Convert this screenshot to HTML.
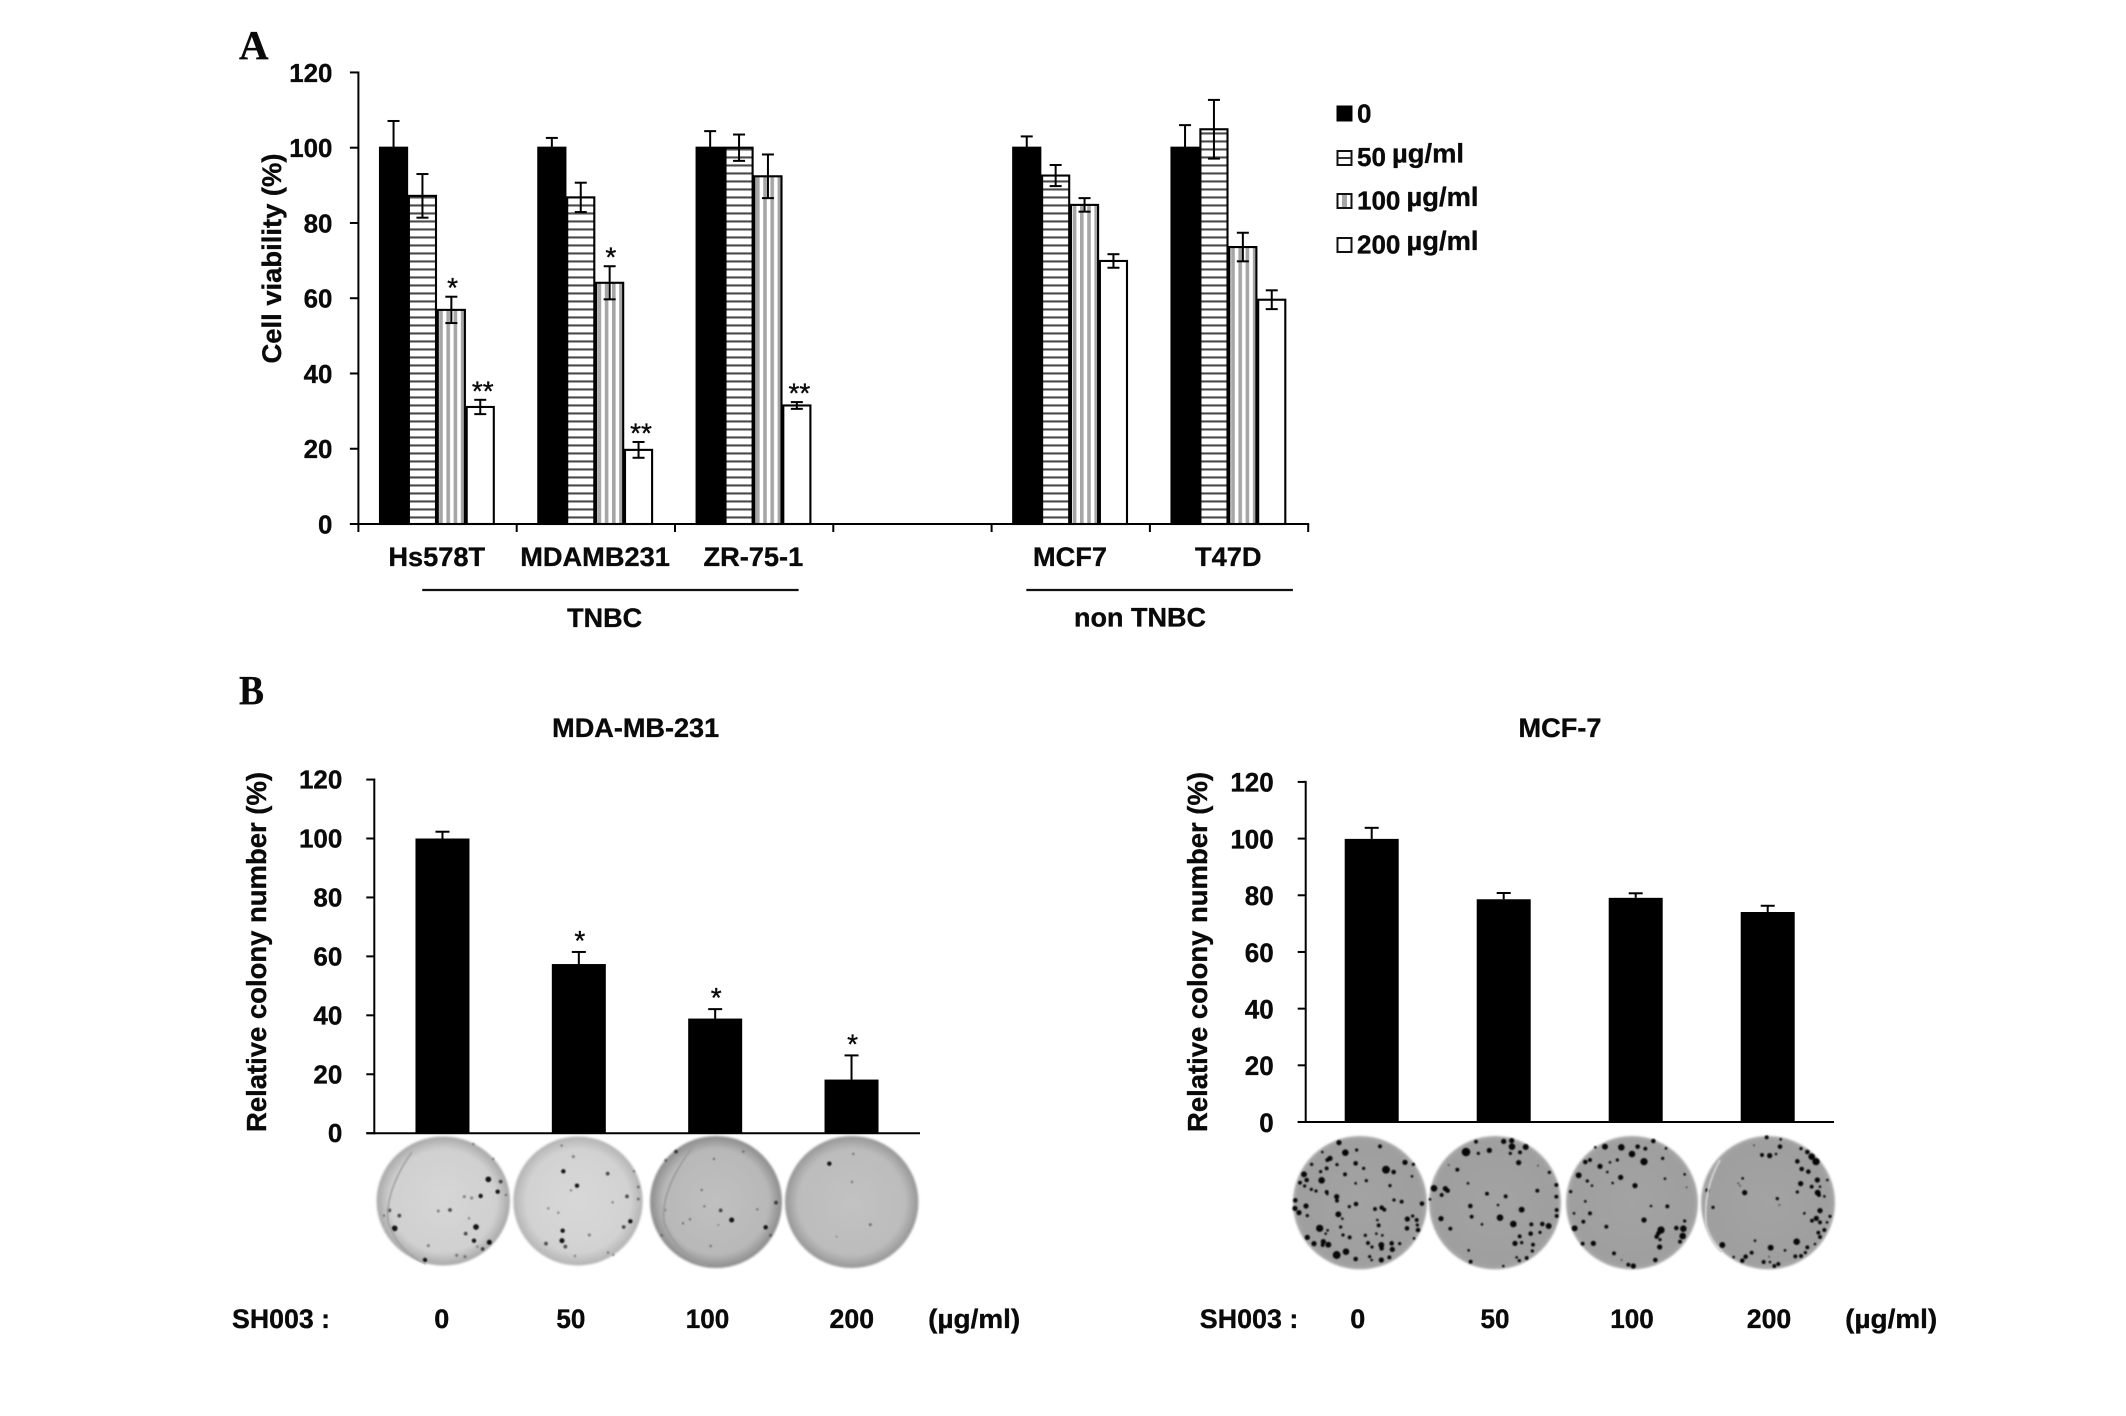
<!DOCTYPE html>
<html lang="en">
<head>
<meta charset="utf-8">
<title>SH003 cell viability and colony formation</title>
<style>
html,body{margin:0;padding:0;background:#fff;width:2126px;height:1416px;overflow:hidden}
svg{display:block}
text{font-family:"Liberation Sans",Arial,sans-serif;font-weight:700;fill:#0a0a0a;stroke:#0a0a0a;stroke-width:.35px}
.serif{font-family:"Liberation Serif","Times New Roman",serif}
.star{font-weight:400;font-size:28px}
</style>
</head>
<body>
<svg id="fig" xmlns="http://www.w3.org/2000/svg" width="2126" height="1416" viewBox="0 0 2126 1416">
  <defs>
    <pattern id="hstripe" patternUnits="userSpaceOnUse" width="8" height="8">
      <rect width="8" height="8" fill="#fff"/><rect y="4.4" width="8" height="2.1" fill="#4a4a4a"/>
    </pattern>
    <pattern id="vstripe" patternUnits="userSpaceOnUse" width="7.2" height="8">
      <rect width="7.2" height="8" fill="#fff"/><rect x="0" width="3.6" height="8" fill="#a6a6a6"/>
    </pattern>
    <filter id="soft" x="-5%" y="-5%" width="110%" height="110%"><feGaussianBlur stdDeviation="1.1"/></filter>
    <filter id="softdot" x="-5%" y="-5%" width="110%" height="110%"><feGaussianBlur stdDeviation="0.8"/></filter>
    <radialGradient id="plateLight1"><stop offset="0" stop-color="#d6d6d6"/><stop offset=".8" stop-color="#d0d0d0"/><stop offset="1" stop-color="#a8a8a8"/></radialGradient>
    <radialGradient id="plateLight2"><stop offset="0" stop-color="#d8d8d8"/><stop offset=".8" stop-color="#d2d2d2"/><stop offset="1" stop-color="#b4b4b4"/></radialGradient>
    <radialGradient id="plateMid1"><stop offset="0" stop-color="#c0c0c0"/><stop offset=".8" stop-color="#b8b8b8"/><stop offset="1" stop-color="#8c8c8c"/></radialGradient>
    <radialGradient id="plateMid2"><stop offset="0" stop-color="#c2c2c2"/><stop offset=".8" stop-color="#bcbcbc"/><stop offset="1" stop-color="#979797"/></radialGradient>
    <radialGradient id="plateDark"><stop offset="0" stop-color="#a3a3a3"/><stop offset=".92" stop-color="#9f9f9f"/><stop offset="1" stop-color="#a8a8a8"/></radialGradient>
  </defs>

  <text class="serif" x="239" y="59" font-size="41">A</text>
  <text class="serif" x="239" y="704" font-size="41" textLength="25" lengthAdjust="spacingAndGlyphs">B</text>

  <g id="chartA">
    <text transform="translate(281,363.5) rotate(-90)" font-size="27" textLength="210" lengthAdjust="spacingAndGlyphs">Cell viability (%)</text>
    <line x1="422.2" x2="798.6" y1="590" y2="590" stroke="#111" stroke-width="2.2"/>
    <line x1="1026.3" x2="1292.9" y1="590" y2="590" stroke="#111" stroke-width="2.2"/>
    <text x="604.6" y="627" text-anchor="middle" font-size="27">TNBC</text>
    <text x="1140" y="626.5" text-anchor="middle" font-size="27">non TNBC</text>
    <g>
      <rect x="1337.5" y="106.5" width="14" height="14" fill="#000" stroke="#000" stroke-width="2"/>
      <text x="1357" y="122.5" font-size="26">0</text>
      <rect x="1337.5" y="151" width="14" height="14" fill="#fff" stroke="#111" stroke-width="2"/>
      <line x1="1338" x2="1351" y1="158" y2="158" stroke="#333" stroke-width="2"/>
      <text x="1357" y="166" font-size="26">50</text>
      <text x="1392" y="162.7" font-size="27" textLength="72" lengthAdjust="spacingAndGlyphs">µg/ml</text>
      <rect x="1337.5" y="194" width="14" height="14" fill="#fff" stroke="#111" stroke-width="2"/>
      <rect x="1342" y="195" width="5" height="12" fill="#a6a6a6"/>
      <text x="1357" y="209.5" font-size="26">100</text>
      <text x="1406.5" y="206" font-size="27" textLength="72" lengthAdjust="spacingAndGlyphs">µg/ml</text>
      <rect x="1337.5" y="238" width="14" height="14" fill="#fff" stroke="#111" stroke-width="2"/>
      <text x="1357" y="253.5" font-size="26">200</text>
      <text x="1406.5" y="250" font-size="27" textLength="72" lengthAdjust="spacingAndGlyphs">µg/ml</text>
    </g>
  </g>

  <g id="chartB1">
    <text x="635.7" y="737" text-anchor="middle" font-size="27" textLength="167" lengthAdjust="spacingAndGlyphs">MDA-MB-231</text>
    <text transform="translate(266,1132) rotate(-90)" font-size="27.4" textLength="360" lengthAdjust="spacingAndGlyphs">Relative colony number (%)</text>
  </g>
  <g id="chartB2">
    <text x="1560" y="737" text-anchor="middle" font-size="27" textLength="83" lengthAdjust="spacingAndGlyphs">MCF-7</text>
    <text transform="translate(1207,1132) rotate(-90)" font-size="27.4" textLength="360" lengthAdjust="spacingAndGlyphs">Relative colony number (%)</text>
  </g>

  <g id="plates"></g>

  <g font-size="27">
    <text x="232" y="1328" textLength="98" lengthAdjust="spacingAndGlyphs">SH003 :</text>
    <text x="441.8" y="1328" text-anchor="middle" textLength="15" lengthAdjust="spacingAndGlyphs">0</text>
    <text x="570.9" y="1328" text-anchor="middle" textLength="29" lengthAdjust="spacingAndGlyphs">50</text>
    <text x="707.5" y="1328" text-anchor="middle" textLength="43.5" lengthAdjust="spacingAndGlyphs">100</text>
    <text x="851.8" y="1328" text-anchor="middle" textLength="44.5" lengthAdjust="spacingAndGlyphs">200</text>
    <text x="928.2" y="1328" textLength="92" lengthAdjust="spacingAndGlyphs">(µg/ml)</text>
  </g>
  <g font-size="27">
    <text x="1199.8" y="1328" textLength="98.5" lengthAdjust="spacingAndGlyphs">SH003 :</text>
    <text x="1357.7" y="1328" text-anchor="middle" textLength="15" lengthAdjust="spacingAndGlyphs">0</text>
    <text x="1495" y="1328" text-anchor="middle" textLength="29" lengthAdjust="spacingAndGlyphs">50</text>
    <text x="1632" y="1328" text-anchor="middle" textLength="43.5" lengthAdjust="spacingAndGlyphs">100</text>
    <text x="1769" y="1328" text-anchor="middle" textLength="44.5" lengthAdjust="spacingAndGlyphs">200</text>
    <text x="1845.2" y="1328" textLength="92" lengthAdjust="spacingAndGlyphs">(µg/ml)</text>
  </g>
</svg>

<script>
/* ---------- Panel A data ---------- */
const aCategories = ['Hs578T', 'MDAMB231', 'ZR-75-1', '', 'MCF7', 'T47D'];
const aTicks = [0, 20, 40, 60, 80, 100, 120];
const aDose0 = [100, 100, 100, null, 100, 100];
const aDose50 = [87.2, 86.8, 100, null, 92.6, 104.9];
const aDose100 = [56.9, 64.1, 92.4, null, 84.8, 73.6];
const aDose200 = [31.1, 19.7, 31.5, null, 69.9, 59.6];
const aErr0 = [7.1, 2.6, 4.4, null, 3, 6];
const aErr50 = [5.8, 3.9, 3.5, null, 2.8, 7.8];
const aErr100 = [3.5, 4.4, 5.8, null, 1.8, 3.8];
const aErr200 = [1.9, 2.1, 0.9, null, 1.8, 2.5];
const aStars100 = ['*', '*', '', '', '', ''];
const aStars200 = ['**', '**', '**', '', '', ''];

/* ---------- Panel B data ---------- */
const bTicks = [0, 20, 40, 60, 80, 100, 120];
const mdaValues = [100, 57.4, 38.9, 18.2];
const mdaErrors = [2.3, 4.1, 3.2, 8.2];
const mdaStars = ['', '*', '*', '*'];
const mcfValues = [99.9, 78.6, 79.1, 74.1];
const mcfErrors = [3.9, 2.2, 1.6, 2.2];

/* ---------- Plate photograph spots: [x, y, r] in 3x crop coordinates ---------- */
const spotsL1 = [[355,148,8],[383,185,6],[392,155,5],[408,195,3],[283,200,4],[305,204,4],[332,198,6],[240,240,5],[205,243,4],[88,257,5],[58,241,5],[42,257,3],[74,295,8],[318,291,8],[287,311,5],[312,332,6],[358,337,7],[338,357,5],[322,350,3],[175,347,4],[260,376,4],[285,380,4],[165,390,6],[310,42,3],[370,87,3],[297,265,3]];
const spotsL2 = [[575,47,3],[610,80,4],[580,124,6],[713,131,5],[621,167,6],[603,181,3],[771,199,5],[805,171,4],[805,207,4],[792,124,3],[728,217,3],[781,274,6],[761,291,5],[578,302,6],[576,332,7],[586,350,5],[528,341,5],[615,378,3],[730,375,3],[714,368,3],[658,315,4],[565,248,3],[535,235,3]];
const spotsL3 = [[78,65,5],[47,91,4],[192,87,3],[245,270,7],[347,292,6],[362,316,4],[378,218,5],[212,241,5],[163,229,3],[322,238,3],[99,280,3],[120,268,3],[182,348,3],[35,316,3],[280,65,3],[155,180,3],[205,285,2],[45,240,3]];
const spotsL4 = [[538,101,6],[661,284,4],[610,72,3],[606,156,3],[560,320,2]];
const spotsR1 = [[147,38,7],[270,49,5],[166,68,9],[200,60,4],[97,66,3],[120,85,7],[112,90,5],[65,103,4],[141,104,4],[197,100,6],[110,115,5],[221,115,4],[288,119,11],[311,126,6],[345,97,7],[370,103,4],[92,125,4],[42,133,8],[165,133,5],[50,150,6],[95,151,9],[30,158,5],[44,168,4],[229,152,4],[197,160,3],[300,167,4],[366,139,3],[64,178,4],[78,183,4],[110,186,5],[112,192,3],[140,200,7],[141,212,5],[16,211,6],[48,228,7],[15,235,7],[27,248,7],[52,257,4],[198,222,6],[178,230,4],[255,237,5],[275,233,6],[283,239,5],[335,215,5],[312,210,4],[396,221,6],[145,253,8],[157,266,3],[266,286,5],[262,270,3],[352,267,7],[368,258,4],[380,270,5],[351,295,6],[384,300,6],[89,295,10],[152,291,4],[113,301,3],[52,322,7],[107,311,3],[159,315,4],[179,322,5],[226,316,4],[259,311,3],[277,316,3],[72,341,7],[100,335,7],[98,345,5],[115,344,8],[234,339,5],[246,351,4],[274,345,8],[275,355,6],[305,340,6],[307,358,7],[329,341,4],[140,375,11],[168,365,9],[197,387,6],[239,380,4],[245,390,3],[274,390,7],[298,382,5],[372,325,3],[382,285,4]];
const spotsR2 = [[558,35,5],[528,66,12],[565,70,4],[598,61,7],[641,34,7],[665,32,7],[666,50,9],[690,67,5],[707,51,8],[661,70,4],[686,98,7],[502,119,5],[476,105,2],[744,107,2],[778,127,4],[534,160,3],[432,175,9],[466,176,7],[473,182,6],[455,195,5],[591,191,5],[647,199,5],[742,182,5],[799,165,5],[799,200,5],[420,208,3],[541,228,6],[624,225,3],[695,239,8],[800,240,5],[800,258,5],[545,260,5],[453,266,7],[630,263,9],[576,283,3],[670,282,9],[481,296,5],[724,283,5],[757,282,6],[776,288,8],[722,311,6],[750,307,4],[689,319,5],[675,340,7],[695,338,4],[729,344,5],[727,363,4],[536,361,3],[542,395,5],[680,382,3],[688,392,4],[710,384,5],[640,408,3]];
const spotsR3 = [[105,50,8],[154,52,9],[203,50,6],[226,56,5],[250,33,6],[288,55,3],[76,52,3],[186,72,9],[46,96,6],[60,90,5],[90,109,7],[120,97,3],[142,90,4],[222,95,10],[278,85,4],[112,126,3],[344,133,3],[26,136,8],[152,142,7],[52,153,4],[128,159,3],[195,167,7],[66,167,3],[285,146,3],[350,172,2],[2,185,4],[46,214,3],[243,228,3],[292,229,5],[60,250,5],[12,250,3],[40,275,5],[222,270,7],[344,273,4],[14,295,8],[109,290,5],[273,300,10],[265,310,6],[260,320,6],[319,294,6],[340,296,9],[338,318,9],[270,329,4],[269,351,7],[330,335,5],[38,341,5],[70,340,7],[132,370,5],[256,390,6],[190,408,7],[175,404,5],[155,390,2]];
const spotsR4 = [[590,22,5],[630,50,6],[632,28,3],[552,46,2],[576,75,5],[599,77,7],[618,72,3],[693,56,4],[712,66,6],[682,94,6],[725,80,9],[738,95,10],[695,117,6],[715,125,6],[518,145,3],[505,160,2],[510,167,2],[524,188,7],[412,181,5],[692,161,7],[725,170,5],[742,150,7],[750,170,3],[772,150,3],[682,186,4],[743,188,8],[747,195,5],[763,199,3],[622,206,4],[628,225,2],[429,232,4],[750,242,7],[703,250,3],[739,265,7],[726,272,5],[750,277,5],[780,259,4],[771,277,3],[763,300,5],[745,308,5],[750,321,5],[735,342,3],[680,335,9],[712,352,5],[457,345,8],[602,353,8],[645,361,3],[545,368,5],[527,380,6],[491,381,3],[517,392,6],[581,396,5],[597,380,2],[600,396,3],[676,379,5],[693,378,5],[706,368,4],[613,408,5],[625,402,5],[555,332,3]];

const NS = 'http://www.w3.org/2000/svg';
function mk(tag, attrs, parent) {
  const el = document.createElementNS(NS, tag);
  for (const k in attrs) el.setAttribute(k, attrs[k]);
  parent.appendChild(el);
  return el;
}

function drawErrorBar(parent, name, cx, yTop, yBottom, capHalf, width) {
  const stem = mk('line', {x1: cx, x2: cx, y1: yTop, y2: yBottom, stroke: '#000', 'stroke-width': width}, parent);
  
  
  const capTop = mk('line', {x1: cx - capHalf, x2: cx + capHalf, y1: yTop, y2: yTop, stroke: '#000', 'stroke-width': width}, parent);
  
  
  const capBottom = mk('line', {x1: cx - capHalf, x2: cx + capHalf, y1: yBottom, y2: yBottom, stroke: '#000', 'stroke-width': width}, parent);
  
  
}

function drawYAxis(parent, prefix, axisX, yOf, ticks, tickLen, labelGap, baseOffset, fontSize, textW, strokeW) {
  const axis = mk('line', {x1: axisX, x2: axisX, y1: yOf(ticks[ticks.length - 1]) - 1, y2: yOf(ticks[0]) + 1, stroke: '#000', 'stroke-width': strokeW}, parent);
  
  
  ticks.forEach(function (t) {
    const tick = mk('line', {x1: axisX - tickLen, x2: axisX, y1: yOf(t), y2: yOf(t), stroke: '#000', 'stroke-width': strokeW}, parent);
    
    
    const lab = mk('text', {x: axisX - labelGap, y: yOf(t) + baseOffset, 'text-anchor': 'end', 'font-size': fontSize, textLength: String(t).length * textW, lengthAdjust: 'spacingAndGlyphs'}, parent);
    lab.textContent = t;
    
    
  });
}

/* ---------- Panel A ---------- */
(function () {
  const g = document.getElementById('chartA');
  const axisX = 358.4, y0 = 524, unit = 3.763, step = 158.3, groupOffset = 20.7, barW = 28.9;
  const yA = function (v) { return y0 - v * unit; };
  const xA = function (i) { return axisX + i * step; };
  const seriesVals = [aDose0, aDose50, aDose100, aDose200];
  const seriesErrs = [aErr0, aErr50, aErr100, aErr200];
  const seriesFill = ['#000', 'url(#hstripe)', 'url(#vstripe)', '#fff'];
  const seriesName = ['0', '50', '100', '200'];
  const seriesStars = [null, null, aStars100, aStars200];

  seriesVals.forEach(function (vals, s) {
    vals.forEach(function (v, i) {
      if (v === null) return;
      const x = xA(i) + groupOffset + s * barW;
      const bar = mk('rect', {x: x + 0.9, y: yA(v), width: barW - 1.8, height: y0 - yA(v), fill: seriesFill[s], stroke: '#000', 'stroke-width': 2.1}, g);
      
      
    });
  });
  seriesVals.forEach(function (vals, s) {
    vals.forEach(function (v, i) {
      if (v === null) return;
      const cx = xA(i) + groupOffset + (s + 0.5) * barW;
      const e = seriesErrs[s][i];
      drawErrorBar(g, 'error-' + aCategories[i].toLowerCase() + '-' + seriesName[s], cx, yA(v + e), yA(v - e), 6, 2);
      const stars = seriesStars[s];
      if (stars && stars[i]) {
        const st = mk('text', {x: cx + (stars[i].length > 1 ? 2.5 : 1.2), y: yA(v + e) + 0.5, 'text-anchor': 'middle', class: 'star'}, g);
        st.textContent = stars[i];
        
        
      }
    });
  });

  drawYAxis(g, 'viability', axisX, yA, aTicks, 8.5, 26, 9.5, 26, 14.4, 2);
  const xAxis = mk('line', {x1: axisX - 8.5, x2: xA(aCategories.length) + 1, y1: y0, y2: y0, stroke: '#000', 'stroke-width': 2}, g);
  
  
  for (let i = 0; i <= aCategories.length; i++) {
    const tick = mk('line', {x1: xA(i), x2: xA(i), y1: y0, y2: y0 + 8, stroke: '#000', 'stroke-width': 2}, g);
    
    
  }
  aCategories.forEach(function (c, i) {
    if (!c) return;
    const lab = mk('text', {x: xA(i + 0.5) - 0.8, y: 566, 'text-anchor': 'middle', 'font-size': 27.2}, g);
    lab.textContent = c;
    
    
  });
})();

/* ---------- Panel B bar charts ---------- */
function drawColonyChart(gid, prefix, axisX, y0, unit, step, barW, xEnd, values, errors, stars, baseOff, labelFont) {
  const g = document.getElementById(gid);
  const yB = function (v) { return y0 - v * unit; };
  const xB = function (i) { return axisX + (i + 0.5) * step; };
  values.forEach(function (v, i) {
    const bar = mk('rect', {x: xB(i) - barW / 2, y: yB(v), width: barW, height: y0 - yB(v), fill: '#000'}, g);
    
    
    const top = yB(v + errors[i]);
    const stem = mk('line', {x1: xB(i), x2: xB(i), y1: top, y2: yB(v), stroke: '#000', 'stroke-width': 2}, g);
    
    
    const cap = mk('line', {x1: xB(i) - 7, x2: xB(i) + 7, y1: top, y2: top, stroke: '#000', 'stroke-width': 2}, g);
    
    
    if (stars[i]) {
      const st = mk('text', {x: xB(i) + 1, y: top - 2, 'text-anchor': 'middle', class: 'star'}, g);
      st.textContent = stars[i];
      
      
    }
  });
  drawYAxis(g, prefix, axisX, yB, bTicks, 8, 32, baseOff, labelFont, 14.45, 2);
  const xAxis = mk('line', {x1: axisX - 8, x2: xEnd, y1: y0, y2: y0, stroke: '#000', 'stroke-width': 2}, g);
  
  
}
drawColonyChart('chartB1', 'mda', 374.3, 1133.2, 2.947, 136.35, 54, 920, mdaValues, mdaErrors, mdaStars, 9, 26);
drawColonyChart('chartB2', 'mcf', 1305.7, 1122, 2.834, 132, 54, 1834, mcfValues, mcfErrors, ['', '', '', ''], 9.8, 27);

/* ---------- Plates ---------- */
(function () {
  const g = document.getElementById('plates');
  const plates = [
    {name: 'mda-plate-0',   cx: 443.3,  cy: 1201,   rx: 66.7, ry: 64.5, fill: 'plateLight1', ox: 370,  spots: spotsL1, alpha: 0.85},
    {name: 'mda-plate-50',  cx: 578,    cy: 1201,   rx: 64.7, ry: 64.5, fill: 'plateLight2', ox: 370,  spots: spotsL2, alpha: 0.85},
    {name: 'mda-plate-100', cx: 716,    cy: 1202,   rx: 66,   ry: 66,   fill: 'plateMid1',   ox: 650,  spots: spotsL3, alpha: 0.85},
    {name: 'mda-plate-200', cx: 851.7,  cy: 1202,   rx: 66.7, ry: 66,   fill: 'plateMid2',   ox: 650,  spots: spotsL4, alpha: 0.85},
    {name: 'mcf-plate-0',   cx: 1360,   cy: 1202.7, rx: 67,   ry: 66.7, fill: 'plateDark',   ox: 1290, spots: spotsR1, alpha: 1},
    {name: 'mcf-plate-50',  cx: 1495,   cy: 1202.7, rx: 66,   ry: 66.7, fill: 'plateDark',   ox: 1290, spots: spotsR2, alpha: 1},
    {name: 'mcf-plate-100', cx: 1632,   cy: 1202.7, rx: 66,   ry: 66.7, fill: 'plateDark',   ox: 1570, spots: spotsR3, alpha: 1},
    {name: 'mcf-plate-200', cx: 1768,   cy: 1202.7, rx: 67,   ry: 66.7, fill: 'plateDark',   ox: 1570, spots: spotsR4, alpha: 1}
  ];
  plates.forEach(function (p) {
    const plateGroup = mk('g', {}, g);
    
    
    const disc = mk('ellipse', {cx: p.cx, cy: p.cy, rx: p.rx, ry: p.ry, fill: 'url(#' + p.fill + ')', filter: 'url(#soft)'}, plateGroup);
    
    
    const colonies = mk('g', {filter: 'url(#softdot)'}, plateGroup);
    
    
    p.spots.forEach(function (s) {
      const dot = mk('circle', {
        cx: p.ox + s[0] / 3,
        cy: 1130 + s[1] / 3,
        r: s[2] / 3 + (p.alpha === 1 ? 0.3 : 0.2),
        fill: '#000',
        opacity: p.alpha === 1 ? (s[2] <= 2 ? 0.55 : 0.95) : (s[2] >= 6 ? 0.9 : s[2] >= 5 ? 0.65 : 0.4)
      }, colonies);
      
      
    });
  });
  const rims = [
    ['mda-plate-0-rim', 'M412 1152Q385 1190 388 1222Q398 1252 426 1264', '#a2a2a2', 1.6],
    ['mda-plate-100-rim', 'M694 1145Q660 1190 664 1222Q674 1252 708 1266', '#9c9c9c', 1.8],
    ['mcf-plate-200-rim', 'M1720 1160Q1703 1190 1706 1225Q1712 1245 1722 1252', '#d0d0d0', 2]
  ];
  rims.forEach(function (r) {
    const rim = mk('path', {d: r[1], fill: 'none', stroke: r[2], 'stroke-width': r[3], filter: 'url(#softdot)'}, g);
    
    
  });
})();
</script>
</body>
</html>
